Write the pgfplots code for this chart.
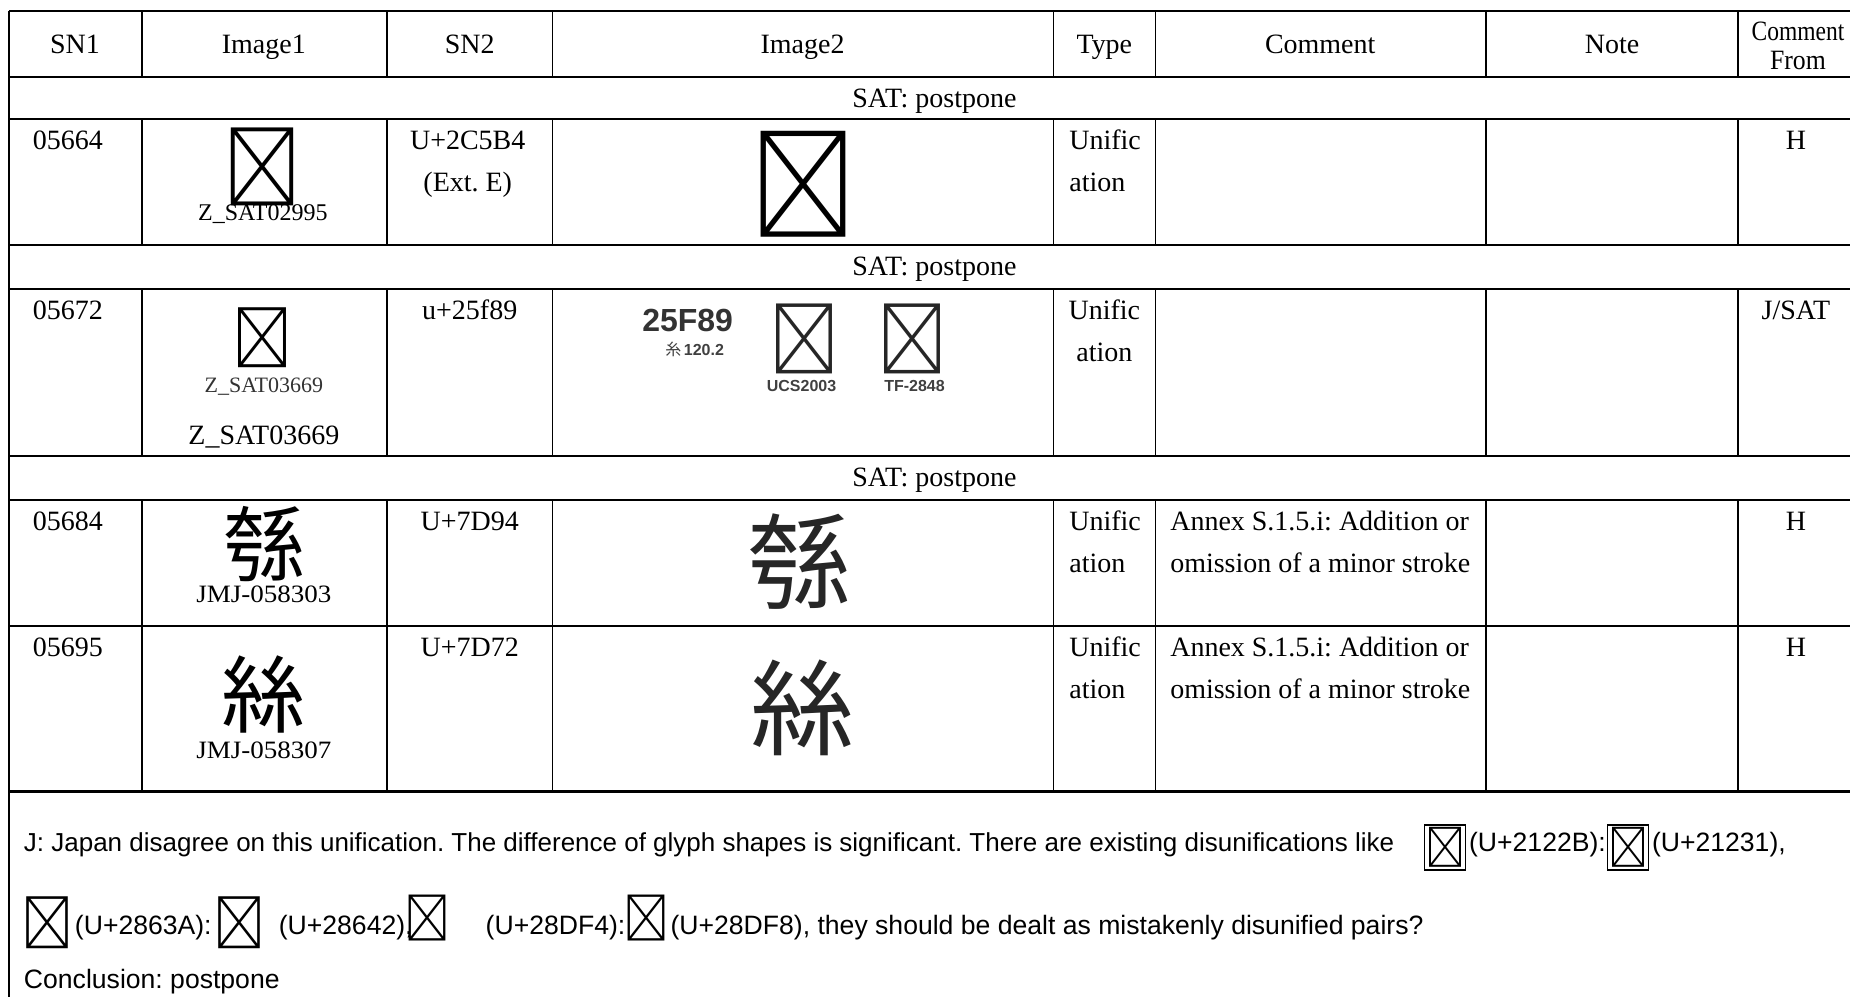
\documentclass[border=0pt]{standalone}
\usepackage{fontspec}
\usepackage{graphicx}
\usepackage{pgfplots}
\pgfplotsset{compat=1.18}
\setmainfont{Liberation Serif}
\newfontfamily\arial{Liberation Sans}
\newfontfamily\cjk{Noto Sans CJK JP}
\newcommand\T{\fontsize{14pt}{17pt}\selectfont}
\newcommand\A{\arial\fontsize{13.3pt}{15pt}\selectfont}
\newcommand\G[1]{\cjk\fontsize{#1}{#1}\selectfont}
\tikzset{every node/.append style={inner sep=0pt, outer sep=0pt}}
\frenchspacing
\begin{document}
\begin{tikzpicture}
\begin{axis}[
  scale only axis, width=925.5pt, height=499pt,
  xmin=0, xmax=1851, ymin=0, ymax=998, y dir=reverse,
  hide axis, clip=false, unbounded coords=jump,
]
\addplot[draw=none, forget plot] coordinates {(0,0) (1851,998)};
% horizontal rules
\addplot[black, line width=1.1pt, forget plot] coordinates {
(9,11)(1851,11)(9,nan)
(9,77)(1851,77)(9,nan)
(9,119)(1851,119)(9,nan)
(9,245)(1851,245)(9,nan)
(9,289)(1851,289)(9,nan)
(9,456)(1851,456)(9,nan)
(9,500)(1851,500)(9,nan)
(9,626)(1851,626)(9,nan)
(9,792)(1851,792)
};
% left border
\addplot[black, line width=0.9pt, forget plot] coordinates {(9,11)(9,998)};
% column rules
\addplot[black, line width=0.8pt, forget plot] coordinates {
(142,11)(142,77)(142,nan)(142,119)(142,245)(142,nan)(142,289)(142,456)(142,nan)(142,500)(142,792)(142,nan)
(387,11)(387,77)(387,nan)(387,119)(387,245)(387,nan)(387,289)(387,456)(387,nan)(387,500)(387,792)(387,nan)
(553,11)(553,77)(553,nan)(553,119)(553,245)(553,nan)(553,289)(553,456)(553,nan)(553,500)(553,792)(553,nan)
(1054,11)(1054,77)(1054,nan)(1054,119)(1054,245)(1054,nan)(1054,289)(1054,456)(1054,nan)(1054,500)(1054,792)(1054,nan)
(1156,11)(1156,77)(1156,nan)(1156,119)(1156,245)(1156,nan)(1156,289)(1156,456)(1156,nan)(1156,500)(1156,792)(1156,nan)
(1487,11)(1487,77)(1487,nan)(1487,119)(1487,245)(1487,nan)(1487,289)(1487,456)(1487,nan)(1487,500)(1487,792)(1487,nan)
(1739,11)(1739,77)(1739,nan)(1739,119)(1739,245)(1739,nan)(1739,289)(1739,456)(1739,nan)(1739,500)(1739,792)
};
% header
\node[anchor=base] at (75,54) {\T SN1};
\node[anchor=base] at (264,54) {\T Image1};
\node[anchor=base] at (470,54) {\T SN2};
\node[anchor=base] at (803,54) {\T Image2};
\node[anchor=base] at (1105,54) {\T Type};
\node[anchor=base] at (1321,54) {\T Comment};
\node[anchor=base] at (1613,54) {\T Note};
\node[anchor=base] at (1799,41) {\T \scalebox{0.84}[1]{Comment}};
\node[anchor=base] at (1799,70) {\T \scalebox{0.92}[1]{From}};
% SAT rows
\node[anchor=base] at (935,108) {\T SAT: postpone};
\node[anchor=base] at (935,276) {\T SAT: postpone};
\node[anchor=base] at (935,487) {\T SAT: postpone};
% row 1
\node[anchor=base] at (68,150) {\T 05664};
\node[anchor=center] at (263,167) {\G{39pt}\symbol{"2C5B4}};
\node[anchor=base] at (263,221) {\fontsize{12pt}{13pt}\selectfont Z\_SAT02995};
\node[anchor=base] at (468,150) {\T U+2C5B4};
\node[anchor=base] at (468,192) {\T (Ext. E)};
\node[anchor=center] at (804,184) {\G{53pt}\symbol{"2C5B4}};
\node[anchor=base west] at (1070,150) {\T Unific};
\node[anchor=base west] at (1070,192) {\T ation};
\node[anchor=base] at (1797,150) {\T H};
% row 2
\node[anchor=base] at (68,320) {\T 05672};
\node[anchor=center] at (263,338) {\G{30pt}\symbol{"25F89}};
\node[anchor=base] at (264,393) {\fontsize{11pt}{12pt}\selectfont\color{black!80} Z\_SAT03669};
\node[anchor=base] at (264,445) {\T Z\_SAT03669};
\node[anchor=base] at (470,320) {\T u+25f89};
\node[anchor=base] at (688,332) {\arial\bfseries\fontsize{16pt}{18pt}\selectfont\color{black!80}25F89};
\node[anchor=base] at (695,356) {\fontsize{8pt}{9pt}\selectfont\color{black!75}{\cjk 糸}\,{\arial\bfseries 120.2}};
\node[anchor=center] at (805,339) {\G{35pt}\color{black!85}\symbol{"25F89}};
\node[anchor=center] at (913,339) {\G{35pt}\color{black!85}\symbol{"25F89}};
\node[anchor=base] at (802,392) {\arial\bfseries\fontsize{8pt}{9pt}\selectfont\color{black!75}UCS2003};
\node[anchor=base] at (915,392) {\arial\bfseries\fontsize{8pt}{9pt}\selectfont\color{black!75}TF-2848};
\node[anchor=base] at (1105,320) {\T Unific};
\node[anchor=base] at (1105,362) {\T ation};
\node[anchor=base] at (1797,320) {\T J/SAT};
% row 3
\node[anchor=base] at (68,531) {\T 05684};
\node[anchor=center] at (265,544) {\G{41pt}\symbol{"7D94}};
\node[anchor=base] at (264,603) {\fontsize{12.5pt}{13pt}\selectfont\scalebox{1.08}[1]{JMJ-058303}};
\node[anchor=base] at (470,531) {\T U+7D94};
\node[anchor=center] at (800,562) {\G{52pt}\color{black!85}\symbol{"7D94}};
\node[anchor=base west] at (1070,531) {\T Unific};
\node[anchor=base west] at (1070,573) {\T ation};
\node[anchor=base west] at (1171,531) {\T Annex S.1.5.i: Addition or};
\node[anchor=base west] at (1171,573) {\T omission of a minor stroke};
\node[anchor=base] at (1797,531) {\T H};
% row 4
\node[anchor=base] at (68,657) {\T 05695};
\node[anchor=center] at (264,695) {\G{42pt}\symbol{"7D72}};
\node[anchor=base] at (264,759) {\fontsize{12.5pt}{13pt}\selectfont\scalebox{1.08}[1]{JMJ-058307}};
\node[anchor=base] at (470,657) {\T U+7D72};
\node[anchor=center] at (803,708) {\G{52pt}\color{black!85}\symbol{"7D72}};
\node[anchor=base west] at (1070,657) {\T Unific};
\node[anchor=base west] at (1070,699) {\T ation};
\node[anchor=base west] at (1171,657) {\T Annex S.1.5.i: Addition or};
\node[anchor=base west] at (1171,699) {\T omission of a minor stroke};
\node[anchor=base] at (1797,657) {\T H};
% note below the table
\node[anchor=base west] at (24,852) {\arial\fontsize{13pt}{15pt}\selectfont J: Japan disagree on this unification. The difference of glyph shapes is significant. There are existing disunifications like};
\node[anchor=center, draw, line width=0.6pt, minimum width=20.5pt, minimum height=22.5pt] at (1446,848) {\G{20pt}\symbol{"2122B}};
\node[anchor=base west] at (1470,852) {\A (U+2122B):};
\node[anchor=center, draw, line width=0.6pt, minimum width=20.5pt, minimum height=22.5pt] at (1629,848) {\G{20pt}\symbol{"21231}};
\node[anchor=base west] at (1653,852) {\A (U+21231),};
\node[anchor=center] at (48,923) {\G{26pt}\symbol{"2863A}};
\node[anchor=base west] at (75,935) {\A (U+2863A):};
\node[anchor=center] at (240,923) {\G{26pt}\symbol{"28642}};
\node[anchor=base west] at (279,935) {\A (U+28642),};
\node[anchor=center] at (428,919) {\G{23pt}\symbol{"28DF4}};
\node[anchor=base west] at (486,935) {\A (U+28DF4):};
\node[anchor=center] at (647,919) {\G{23pt}\symbol{"28DF8}};
\node[anchor=base west] at (671,935) {\A (U+28DF8), they should be dealt as mistakenly disunified pairs?};
\node[anchor=base west] at (24,989) {\A Conclusion: postpone};
\end{axis}
\end{tikzpicture}
\end{document}
